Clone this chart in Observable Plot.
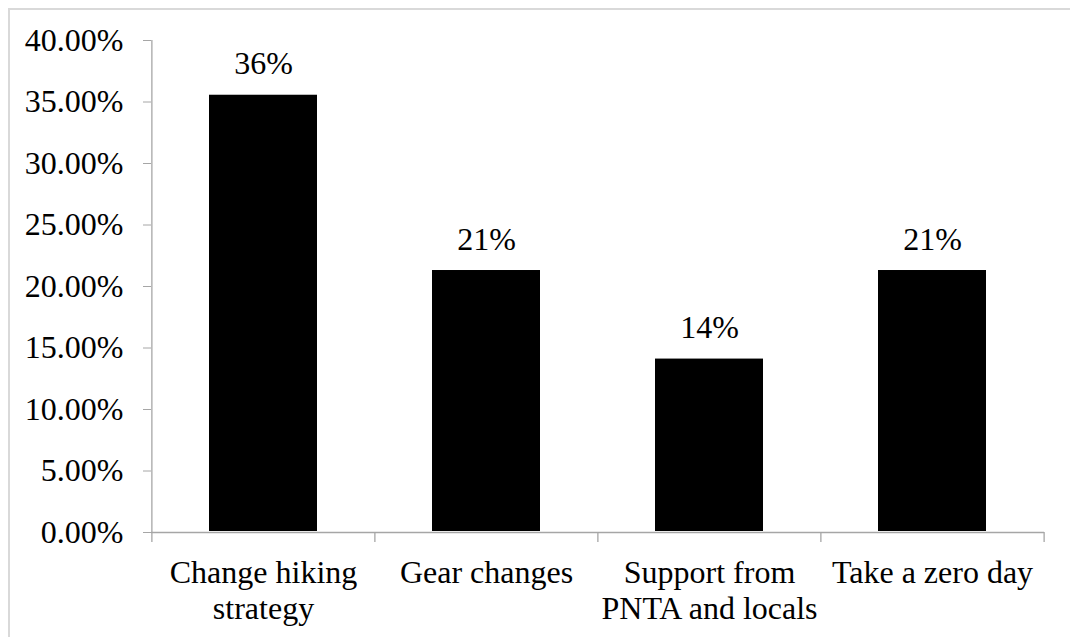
<!DOCTYPE html>
<html>
<head>
<meta charset="utf-8">
<script src="https://cdn.jsdelivr.net/npm/d3@7"></script>
<script src="https://cdn.jsdelivr.net/npm/@observablehq/plot@0.6"></script>
<style>
  html, body { margin: 0; padding: 0; background: #fff; }
  #wrap { position: relative; width: 1070px; height: 637px; overflow: hidden; }
  #wrap svg, #wrap svg text { font-family: "Liberation Serif", "Times New Roman", "DejaVu Serif", serif !important; }
  #border { position: absolute; left: 8px; top: 8px; width: 2000px; height: 2000px;
            border-top: 2px solid #d9d9d9; border-left: 2px solid #d9d9d9; pointer-events: none; }
</style>
</head>
<body>
<div id="wrap"><div id="border"></div></div>
<script>
const categories = ["Change hiking\nstrategy", "Gear changes", "Support from\nPNTA and locals", "Take a zero day"];
const values = [0.3555, 0.213, 0.141, 0.213];
const yTicks = [0, 0.05, 0.10, 0.15, 0.20, 0.25, 0.30, 0.35, 0.40];

const data = categories.map((c, i) => ({category: c, value: values[i]}));

const W = 1070, H = 637;
const mL = 151, mR = 26, mT = 40, mB = 105;
const step = (W - mL - mR) / categories.length;
const axisColor = "#a6a6a6";
const serif = "Liberation Serif";
const fs = 32;

const chart = Plot.plot({
  width: W,
  height: H,
  marginLeft: mL,
  marginRight: mR,
  marginTop: mT,
  marginBottom: mB,
  style: {fontFamily: serif, fontSize: fs + "px", color: "black", background: "transparent"},
  x: {domain: categories, paddingInner: 0.516, paddingOuter: 0.258, label: null},
  y: {domain: [0, 0.4], label: null},
  marks: [
    Plot.barY(data, {x: "category", y: "value", fill: "black", insetBottom: 1}),
    Plot.ruleY([0], {stroke: axisColor, strokeWidth: 1.3}),
    Plot.ruleX([categories[0]], {y1: 0, y2: 0.4, dx: -step / 2, stroke: axisColor, strokeWidth: 1.3}),
    Plot.ruleX(categories, {y1: 0, y2: 0, dx: -step / 2, insetBottom: -10, stroke: axisColor, strokeWidth: 1.3}),
    Plot.ruleX([categories[categories.length - 1]], {y1: 0, y2: 0, dx: step / 2, insetBottom: -10, stroke: axisColor, strokeWidth: 1.3}),
    Plot.axisY({ticks: yTicks, tickFormat: d3.format(".2%"), tickSize: 8, tickPadding: 20, stroke: axisColor, fill: "black", fontFamily: serif, fontSize: fs, label: null}),
    Plot.axisX({tickSize: 0, tickPadding: 24, fill: "black", lineHeight: 1.15, fontFamily: serif, fontSize: fs, label: null}),
    Plot.text(data, {x: "category", y: "value", text: d => d3.format(".0%")(d.value), dy: -31, fill: "black", fontSize: fs, fontFamily: serif})
  ]
});
document.getElementById("wrap").prepend(chart);
</script>
</body>
</html>
